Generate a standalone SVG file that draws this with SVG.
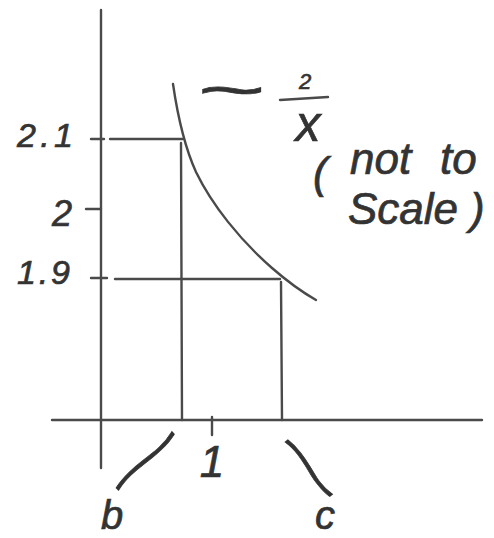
<svg xmlns="http://www.w3.org/2000/svg" width="494" height="538" viewBox="0 0 494 538">
<style>
.ln{stroke:#4a4a4a;stroke-width:2.4;fill:none;stroke-linecap:round}
.t{font-family:"Liberation Sans",Arial,sans-serif;font-style:italic;fill:#333;stroke:#333;stroke-width:0.7}
</style>
<rect width="494" height="538" fill="#fff"/>
<g id="axes">
<line class="ln" x1="101" y1="10" x2="101" y2="468"/>
<line class="ln" x1="52" y1="420" x2="482" y2="420"/>
<line class="ln" x1="91" y1="139" x2="104" y2="139"/>
<line class="ln" x1="86" y1="209" x2="101" y2="209"/>
<line class="ln" x1="91" y1="278" x2="107" y2="278"/>
<line class="ln" x1="212" y1="417" x2="212" y2="435"/>
</g>
<g id="curve">
<path class="ln" d="M173,84 C179,125 186,150 196,172 C212,205 240,240 272,268 C288,282 302,292 316,300"/>
</g>
<g id="connectors">
<line class="ln" x1="110" y1="139" x2="183" y2="139"/>
<line class="ln" x1="181" y1="143" x2="182" y2="420"/>
<line class="ln" x1="115" y1="279" x2="280" y2="279"/>
<line class="ln" x1="281" y1="282" x2="282" y2="420"/>
<line class="ln" x1="280" y1="100" x2="328" y2="97"/>
</g>
<g id="labels">
<text class="t" x="17" y="147" font-size="34" textLength="56" lengthAdjust="spacing">2.1</text>
<text class="t" x="52" y="226" font-size="36">2</text>
<text class="t" x="17" y="284" font-size="34" textLength="53" lengthAdjust="spacing">1.9</text>
<text class="t" x="196" y="110" font-size="60" textLength="68" lengthAdjust="spacingAndGlyphs">~</text>
<text class="t" x="305" y="89" font-size="22" text-anchor="middle">2</text>
<text class="t" x="308" y="141" font-size="50" text-anchor="middle">x</text>
<text class="t" font-size="44" y="174"><tspan x="313" y="188">(</tspan><tspan x="350" y="174">not</tspan><tspan x="440" y="174">to</tspan></text>
<text class="t" font-size="44" y="224"><tspan x="348">Scale</tspan><tspan x="470">)</tspan></text>
<text class="t" x="212" y="477" font-size="44" text-anchor="middle">1</text>
<text class="t" x="112" y="529" font-size="40" text-anchor="middle">b</text>
<text class="t" x="325" y="529" font-size="40" text-anchor="middle">c</text>
<text class="t" font-size="50" text-anchor="middle" x="0" y="16" transform="translate(144,463) rotate(-44)" textLength="92" lengthAdjust="spacingAndGlyphs">~</text>
<text class="t" font-size="50" text-anchor="middle" x="0" y="16" transform="translate(307,467) rotate(52)" textLength="82" lengthAdjust="spacingAndGlyphs">~</text>
</g>
</svg>
